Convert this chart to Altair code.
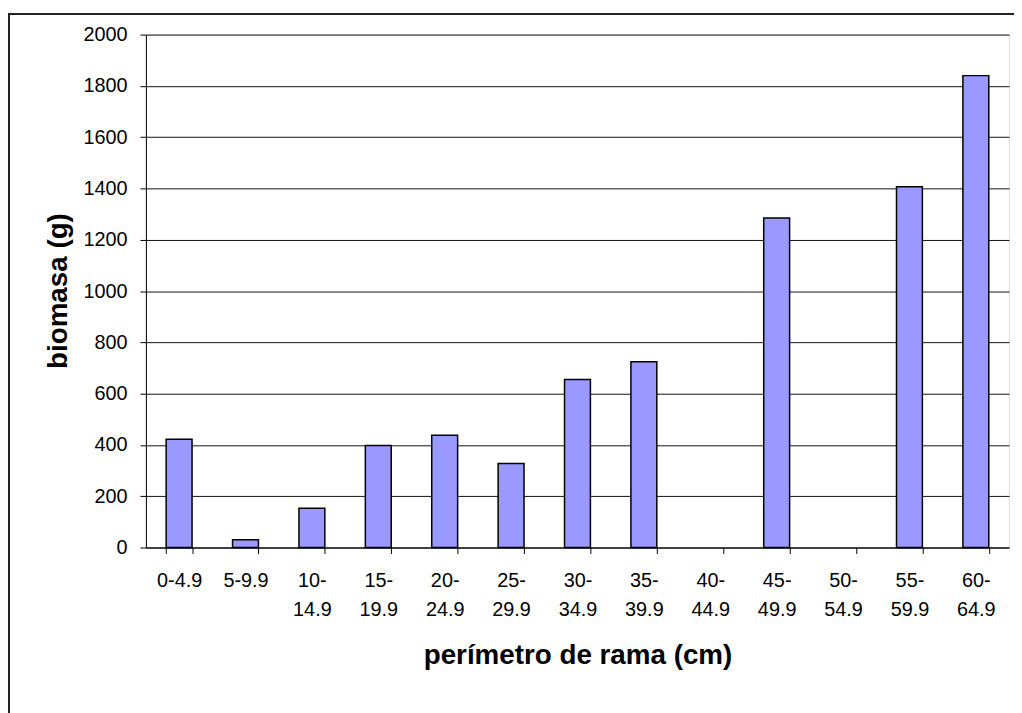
import altair as alt
import pandas as pd

categories = ["0-4.9", "5-9.9", "10-14.9", "15-19.9", "20-24.9", "25-29.9", "30-34.9",
              "35-39.9", "40-44.9", "45-49.9", "50-54.9", "55-59.9", "60-64.9"]
biomasa = [422, 30, 153, 398, 438, 328, 655, 724, 0, 1285, 0, 1407, 1840]
y_ticks = [0, 200, 400, 600, 800, 1000, 1200, 1400, 1600, 1800, 2000]

df = pd.DataFrame({"cat": categories, "val": biomasa})

FONT = "Liberation Sans"

bars = alt.Chart(df).transform_filter("datum.val > 0").mark_bar(
    color="#9999FF", stroke="#000000", strokeWidth=1.5).encode(
    x=alt.X("cat:N", sort=categories,
            scale=alt.Scale(domain=categories, paddingInner=0.61),
            axis=alt.Axis(
                title="perímetro de rama (cm)",
                labelAngle=0,
                labelOverlap=False,
                labelFont=FONT, labelFontSize=20, labelColor="#000",
                labelBaseline="top",
                labelLineHeight=30,
                labelPadding=17,
                labelExpr="length(datum.label) > 5 ? [substring(datum.label, 0, indexof(datum.label, '-') + 1), substring(datum.label, indexof(datum.label, '-') + 1)] : datum.label",
                tickBand="extent", tickSize=6, tickColor="#000", tickWidth=1,
                domainColor="#000", domainWidth=1,
                titleFont=FONT, titleFontSize=28, titleFontWeight="bold", titleColor="#000",
                titleY=109, titleBaseline="middle",
                grid=False)),
    y=alt.Y("val:Q",
            scale=alt.Scale(domain=[0, 2000], nice=False),
            axis=alt.Axis(
                title="biomasa (g)",
                values=y_ticks,
                format="d",
                labelFont=FONT, labelFontSize=20, labelColor="#000",
                labelPadding=13,
                tickSize=6, tickColor="#000", tickWidth=1,
                domainColor="#000", domainWidth=1,
                grid=True, gridColor="#111", gridWidth=1,
                titleFont=FONT, titleFontSize=28, titleFontWeight="bold", titleColor="#000",
                titleX=-88, titleY=258, titleAlign="center", titleBaseline="middle", titleAngle=270)),
)

frame = alt.Chart(df).mark_rect(fillOpacity=0, stroke="#222222", strokeWidth=1.5).encode(
    x=alt.value(-138), x2=alt.value(3000), y=alt.value(-21), y2=alt.value(3000)
)

chart = alt.layer(bars, frame).properties(
    width=870, height=517,
    autosize=alt.AutoSizeParams(type="none"),
    padding={"left": 139, "top": 24, "right": 5, "bottom": 164},
).configure_view(strokeWidth=0).configure(background="white")

chart.save("out.html", embed_options={"renderer": "svg", "actions": False})
